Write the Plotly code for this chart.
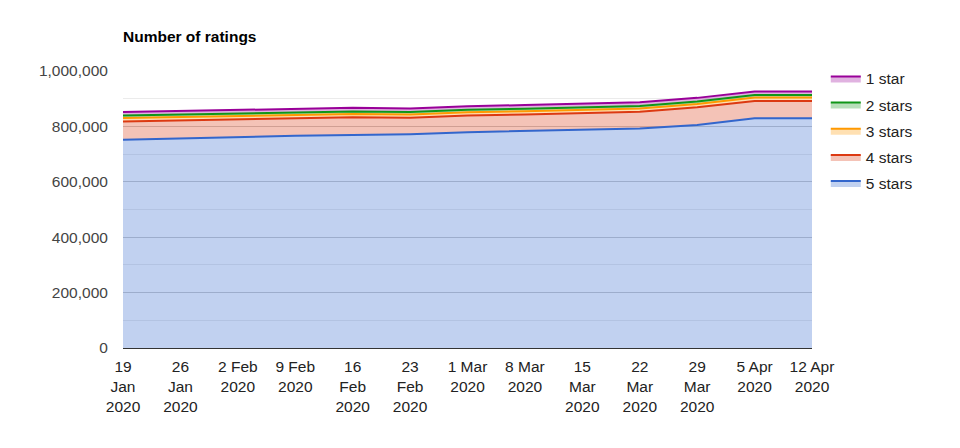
import plotly.graph_objects as go

dates = ["19 Jan 2020", "26 Jan 2020", "2 Feb 2020", "9 Feb 2020", "16 Feb 2020",
         "23 Feb 2020", "1 Mar 2020", "8 Mar 2020", "15 Mar 2020", "22 Mar 2020",
         "29 Mar 2020", "5 Apr 2020", "12 Apr 2020"]
tick_labels = ["19<br>Jan<br>2020", "26<br>Jan<br>2020", "2 Feb<br>2020", "9 Feb<br>2020",
               "16<br>Feb<br>2020", "23<br>Feb<br>2020", "1 Mar<br>2020", "8 Mar<br>2020",
               "15<br>Mar<br>2020", "22<br>Mar<br>2020", "29<br>Mar<br>2020", "5 Apr<br>2020",
               "12 Apr<br>2020"]

five_stars = [752000, 757000, 762000, 766000, 769000, 772000, 779000, 783000, 787000, 792000, 805000, 829000, 829000]
four_stars = [66000, 65000, 64000, 63000, 64000, 59000, 60000, 60000, 60000, 61000, 64000, 63000, 63000]
three_stars = [12000, 12000, 12000, 12000, 12000, 12000, 12000, 12000, 12000, 12000, 12000, 12000, 12000]
two_stars = [9000, 9000, 9000, 9000, 9000, 9000, 9000, 9000, 9000, 9000, 9000, 9000, 9000]
one_star = [13000, 13000, 13000, 13000, 13000, 13000, 13000, 13000, 13000, 13000, 13000, 13000, 13000]

y_ticks = [0, 200000, 400000, 600000, 800000, 1000000]

series = [
    ("5 stars", five_stars, "#3366cc", "rgba(51,102,204,0.3)"),
    ("4 stars", four_stars, "#dc3912", "rgba(220,57,18,0.3)"),
    ("3 stars", three_stars, "#ff9900", "rgba(255,153,0,0.3)"),
    ("2 stars", two_stars, "#109618", "rgba(16,150,24,0.3)"),
    ("1 star", one_star, "#990099", "rgba(153,0,153,0.3)"),
]

FONT = "Arial, Liberation Sans, sans-serif"

fig = go.Figure()
n = len(series)
for i, (name, vals, col, fcol) in enumerate(series):
    fig.add_trace(go.Scatter(
        x=dates, y=vals, name=name, mode="lines", legendgroup=name,
        legendrank=1000 + (n - i),
        stackgroup="one", line=dict(color=col, width=2),
        fillcolor=fcol,
    ))

# page body has an 8px default margin, so the figure is offset by 8px
fig.update_layout(
    width=952, height=440,
    margin=dict(l=115, r=148, t=63, b=100),
    paper_bgcolor="white", plot_bgcolor="white",
    font=dict(family=FONT, size=15.5, color="#333333"),
    title=dict(text="<b>Number of ratings</b>", x=0, xref="paper", xanchor="left",
               y=1 - 29 / 440, yref="container", yanchor="middle",
               font=dict(family=FONT, size=15.5, color="#000000")),
    legend=dict(x=1.02, y=1.033, xanchor="left", yanchor="top",
                traceorder="grouped", tracegroupgap=3,
                font=dict(family=FONT, size=15.5, color="#222222"),
                bgcolor="rgba(0,0,0,0)"),
    showlegend=True,
)
fig.update_xaxes(
    type="category", range=[0, len(dates) - 1],
    tickmode="array", tickvals=dates, ticktext=tick_labels,
    showgrid=False, showline=True, linecolor="#333333", linewidth=1,
    ticks="outside", ticklen=4, tickcolor="rgba(0,0,0,0)",
    tickfont=dict(color="#222222"),
)
fig.update_yaxes(
    range=[0, 1000000], tickmode="array", tickvals=y_ticks,
    tickformat=",d", showgrid=True, gridcolor="#cccccc", gridwidth=1,
    zeroline=False, showline=False,
    minor=dict(dtick=100000, tick0=0, showgrid=True, gridcolor="#ebebeb", gridwidth=1),
    ticks="outside", ticklen=11, tickcolor="rgba(0,0,0,0)",
    tickfont=dict(color="#444444"),
)

fig.write_html("out.html")
